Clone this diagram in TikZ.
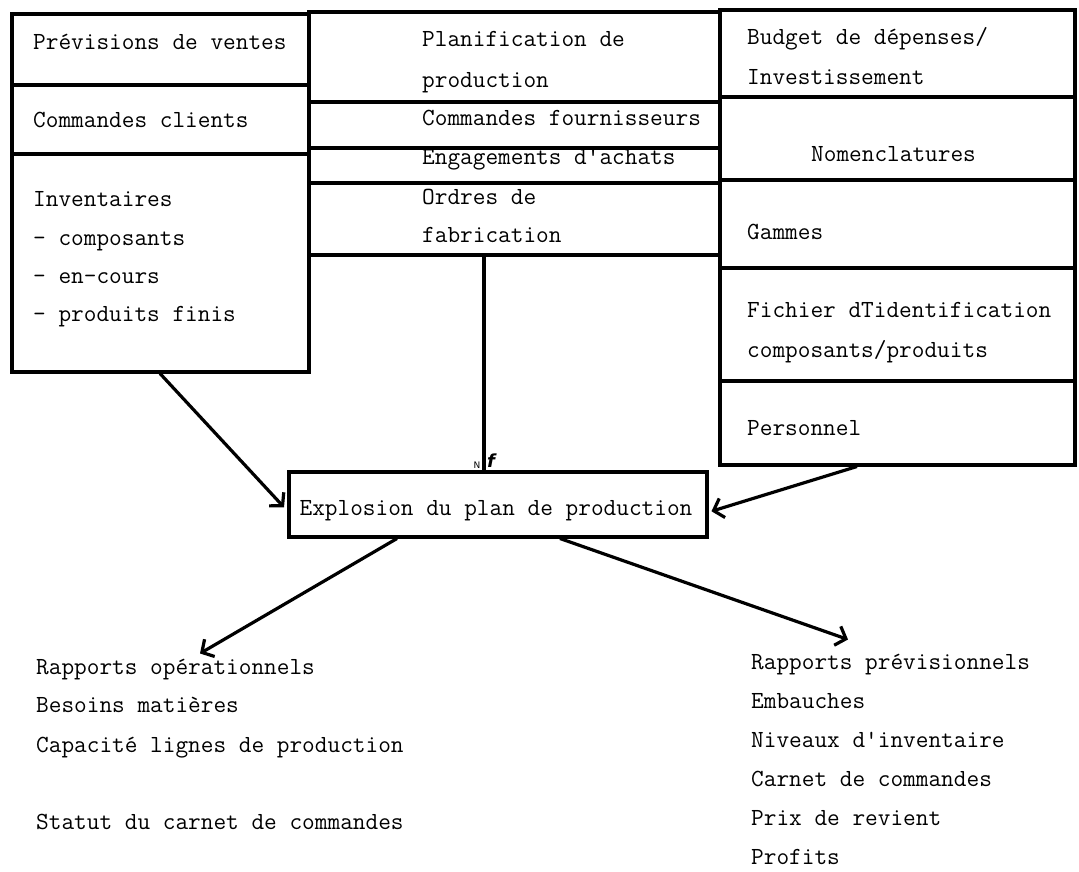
\documentclass[tikz,border=0pt]{standalone}
\usepackage{fontspec}
\setmonofont{Latin Modern Mono}
\newfontfamily\dv{DejaVu Sans}
\usetikzlibrary{arrows.meta,calc}
\begin{document}
\begin{tikzpicture}[x=1pt,y=-1pt,
  cell/.style={draw,line width=3.5pt,rectangle,inner sep=0pt,anchor=north west},
  txt/.style={anchor=base west,inner sep=0pt,font=\ttfamily\fontsize{24.6}{26}\selectfont},
  arr/.style={line width=3.2pt,-{Straight Barb[length=9pt,width=20pt,line width=3.2pt]}},
  link/.style={line width=3.5pt}]
\useasboundingbox (0,0) rectangle (1079,871);
% left column
\node[cell,minimum width=297pt,minimum height=71pt] (prev) at (10,12) {};
\node[cell,minimum width=297pt,minimum height=69pt] (cmdc) at (10,83) {};
\node[cell,minimum width=297pt,minimum height=218pt] (inv) at (10,152) {};
% middle column
\node[cell,minimum width=411pt,minimum height=90pt] (plan) at (307,10) {};
\node[cell,minimum width=411pt,minimum height=46pt] (cmdf) at (307,100) {};
\node[cell,minimum width=411pt,minimum height=35pt] (eng) at (307,146) {};
\node[cell,minimum width=411pt,minimum height=72pt] (ordr) at (307,181) {};
% right column
\node[cell,minimum width=355pt,minimum height=87pt] (budg) at (718,8) {};
\node[cell,minimum width=355pt,minimum height=83pt] (nom) at (718,95) {};
\node[cell,minimum width=355pt,minimum height=88pt] (gam) at (718,178) {};
\node[cell,minimum width=355pt,minimum height=113pt] (fich) at (718,266) {};
\node[cell,minimum width=355pt,minimum height=84pt] (pers) at (718,379) {};
% central box
\node[cell,minimum width=418pt,minimum height=65pt] (expl) at (287,470) {};
\node[txt,anchor=base] (explt) at (496,515) {Explosion du plan de production};
% texts left
\node[txt] (t1) at (33,49) {Prévisions de ventes};
\node[txt] (t2) at (33,127) {Commandes clients};
\node[txt] (t3) at (33,206) {Inventaires};
\node[txt] (t4) at (33,245) {-  composants};
\node[txt] (t5) at (33,283) {-  en-cours};
\node[txt] (t6) at (33,321) {-  produits finis};
% texts middle
\node[txt] (m1) at (422,46) {Planification de};
\node[txt] (m2) at (422,87) {production};
\node[txt] (m3) at (422,125) {Commandes fournisseurs};
\node[txt] (m4) at (422,164) {Engagements d'achats};
\node[txt] (m5) at (422,204) {Ordres de};
\node[txt] (m6) at (422,242) {fabrication};
% texts right
\node[txt] (r1) at (747,44) {Budget de dépenses/};
\node[txt] (r2) at (747,84) {Investissement};
\node[txt] (r3) at (811,161) {Nomenclatures};
\node[txt] (r4) at (747,239) {Gammes};
\node[txt] (r5) at (747,317) {Fichier dTidentification};
\node[txt] (r6) at (747,357) {composants/produits};
\node[txt] (r7) at (747,435) {Personnel};
% outputs left
\node[txt] (o1) at (36,674) {Rapports opérationnels};
\node[txt] (o2) at (36,712) {Besoins matières};
\node[txt] (o3) at (36,752) {Capacité lignes de production};
\node[txt] (o4) at (36,829) {Statut du carnet de commandes};
% outputs right
\node[txt] (p1) at (751,669) {Rapports prévisionnels};
\node[txt] (p2) at (751,708) {Embauches};
\node[txt] (p3) at (751,747) {Niveaux d'inventaire};
\node[txt] (p4) at (751,786) {Carnet de commandes};
\node[txt] (p5) at (751,825) {Prix de revient};
\node[txt] (p6) at (751,864) {Profits};
% connectors
\coordinate (vtop) at ($(ordr.south west)+(177,0)$);
\draw[link] (vtop) -- (vtop |- expl.north);
\node[inner sep=0pt,font=\dv\fontsize{9}{10}\selectfont] (nmark) at (477,465) {N};
\node[inner sep=0pt,font=\dv\bfseries\itshape\fontsize{18}{20}\selectfont] (fmark) at (491,461) {f};
\draw[arr] ($(inv.south west)+(150,0)$) -- ([shift={(-3,3)}]expl.west);
\draw[arr] ($(pers.south west)+(139,0)$) -- ([shift={(3,7)}]expl.east);
\draw[arr] ($(expl.south west)+(110,0)$) -- ($(o1.north west)+(164,-5)$);
\draw[arr] ($(expl.south west)+(273,0)$) -- ($(p1.north west)+(97,-14)$);
\end{tikzpicture}
\end{document}
